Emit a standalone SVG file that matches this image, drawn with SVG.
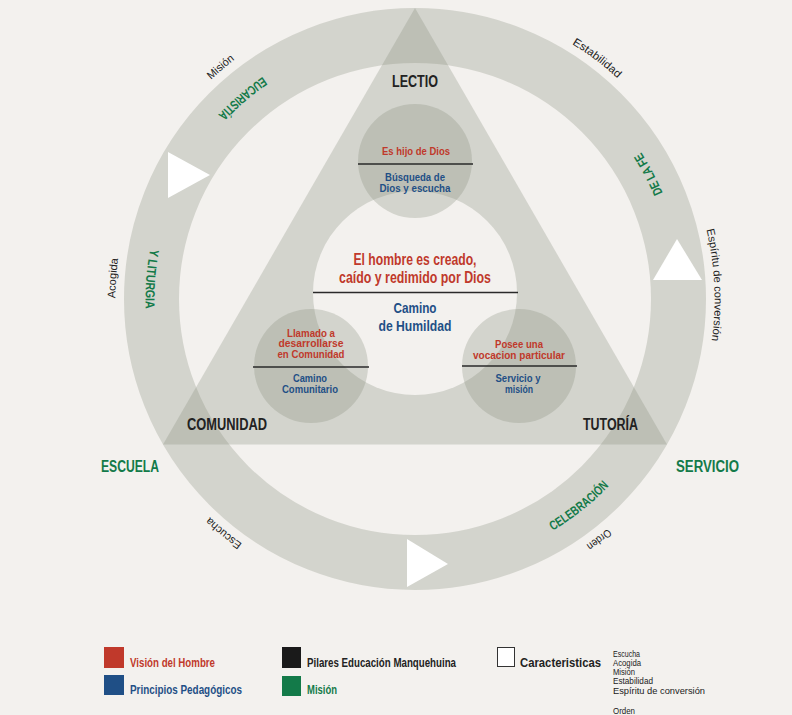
<svg xmlns="http://www.w3.org/2000/svg" xmlns:xlink="http://www.w3.org/1999/xlink" width="792" height="715" viewBox="0 0 792 715">
<style>
.bg{fill:#f3f1ee}
.gray{fill:#888d7c;fill-opacity:0.29}
.ringc{fill:none;stroke:#888d7c;stroke-opacity:0.29;stroke-width:55}
.arrow{fill:#ffffff}
.div{stroke:#2a2a2a;stroke-width:1.5}
text{font-family:"Liberation Sans",Arial,sans-serif}
.b{font-weight:bold}
.red{fill:#c0392b}
.blue{fill:#1f4f86}
.green{fill:#137a49}
.dark{fill:#222222}
.pillar{font-size:16px;font-weight:bold;fill:#222222}
.mission{font-size:16px;font-weight:bold;fill:#137a49}
.small{font-size:11px;font-weight:bold}
.outer{font-size:11px;fill:#222222}
.ringlab{font-size:13px;font-weight:bold;fill:#137a49}
.leg{font-size:13px;font-weight:bold}
.list{font-size:9px;fill:#222222}
</style>
<defs>
<path id="cw" d="M 415,598.5 A 299.5 299.5 0 1 1 415,-0.5 A 299.5 299.5 0 1 1 415,598.5"/>
<path id="ccw" d="M 415,568.5 A 269.5 269.5 0 1 0 415,29.5 A 269.5 269.5 0 1 0 415,568.5"/>
</defs>
<rect class="bg" x="0" y="0" width="792" height="715"/>

<g id="connectors">
<circle class="ringc" cx="415" cy="299" r="263.5"/>
<polygon class="arrow" points="168,152 168,198 210,175"/>
<polygon class="arrow" points="653,280 702,280 677,239"/>
<polygon class="arrow" points="407,539 407,587 448,564"/>
</g>

<g id="triangle">
<polygon class="gray" points="415,8 163,444.5 667,444.5"/>
</g>

<g id="center">
<circle class="bg" cx="415" cy="293" r="102"/>
</g>

<g id="node-lectio-circle">
<circle class="gray" cx="415" cy="161" r="57"/>
<line class="div" x1="358" y1="164" x2="473" y2="164"/>
<text class="small red" x="416" y="155" text-anchor="middle" textLength="68" lengthAdjust="spacingAndGlyphs">Es hijo de Dios</text>
<text class="small blue" x="415" y="180.5" text-anchor="middle" textLength="60" lengthAdjust="spacingAndGlyphs">Búsqueda de</text>
<text class="small blue" x="415" y="191.5" text-anchor="middle" textLength="71" lengthAdjust="spacingAndGlyphs">Dios y escucha</text>
</g>

<g id="node-comunidad-circle">
<circle class="gray" cx="311" cy="366" r="57"/>
<line class="div" x1="253" y1="367" x2="369" y2="367"/>
<text class="small red" x="311" y="336.5" text-anchor="middle" textLength="48" lengthAdjust="spacingAndGlyphs">Llamado a</text>
<text class="small red" x="311" y="347" text-anchor="middle" textLength="65" lengthAdjust="spacingAndGlyphs">desarrollarse</text>
<text class="small red" x="311" y="358" text-anchor="middle" textLength="67" lengthAdjust="spacingAndGlyphs">en Comunidad</text>
<text class="small blue" x="310" y="382" text-anchor="middle" textLength="34" lengthAdjust="spacingAndGlyphs">Camino</text>
<text class="small blue" x="310" y="392.5" text-anchor="middle" textLength="56" lengthAdjust="spacingAndGlyphs">Comunitario</text>
</g>

<g id="node-tutoria-circle">
<circle class="gray" cx="519" cy="366" r="57"/>
<line class="div" x1="462" y1="366" x2="577" y2="366"/>
<text class="small red" x="519" y="348" text-anchor="middle" textLength="48" lengthAdjust="spacingAndGlyphs">Posee una</text>
<text class="small red" x="519" y="359" text-anchor="middle" textLength="92" lengthAdjust="spacingAndGlyphs">vocacion particular</text>
<text class="small blue" x="518" y="382" text-anchor="middle" textLength="45" lengthAdjust="spacingAndGlyphs">Servicio y</text>
<text class="small blue" x="519" y="392.5" text-anchor="middle" textLength="28" lengthAdjust="spacingAndGlyphs">misión</text>
</g>

<g id="node-center-text">
<text class="b red" font-size="16" x="415" y="265" text-anchor="middle" textLength="123" lengthAdjust="spacingAndGlyphs">El hombre es creado,</text>
<text class="b red" font-size="16" x="415" y="283" text-anchor="middle" textLength="152" lengthAdjust="spacingAndGlyphs">caído y redimido por Dios</text>
<line class="div" x1="313" y1="292.5" x2="518" y2="292.5"/>
<text class="b blue" font-size="14" x="415" y="313" text-anchor="middle" textLength="43" lengthAdjust="spacingAndGlyphs">Camino</text>
<text class="b blue" font-size="14" x="415" y="331" text-anchor="middle" textLength="73" lengthAdjust="spacingAndGlyphs">de Humildad</text>
</g>

<g id="node-lectio">
<text class="pillar" x="415" y="87" text-anchor="middle" textLength="46" lengthAdjust="spacingAndGlyphs">LECTIO</text>
</g>
<g id="node-comunidad">
<text class="pillar" x="227" y="430" text-anchor="middle" textLength="80" lengthAdjust="spacingAndGlyphs">COMUNIDAD</text>
</g>
<g id="node-tutoria">
<text class="pillar" x="610.5" y="430" text-anchor="middle" textLength="55" lengthAdjust="spacingAndGlyphs">TUTORÍA</text>
</g>
<g id="node-escuela">
<text class="mission" x="130" y="472" text-anchor="middle" textLength="58" lengthAdjust="spacingAndGlyphs">ESCUELA</text>
</g>
<g id="node-servicio">
<text class="mission" x="707.5" y="472" text-anchor="middle" textLength="63" lengthAdjust="spacingAndGlyphs">SERVICIO</text>
</g>

<g id="ring-labels">
<text class="ringlab" text-anchor="middle" textLength="59" lengthAdjust="spacingAndGlyphs"><textPath xlink:href="#ccw" href="#ccw" startOffset="61.3%">EUCARISTÍA</textPath></text>
<text class="ringlab" text-anchor="middle" textLength="60" lengthAdjust="spacingAndGlyphs"><textPath xlink:href="#ccw" href="#ccw" startOffset="73.8%">Y LITURGIA</textPath></text>
<text class="ringlab" text-anchor="middle" textLength="46" lengthAdjust="spacingAndGlyphs"><textPath xlink:href="#ccw" href="#ccw" startOffset="32.8%">DE LA FE</textPath></text>
<text class="ringlab" text-anchor="middle" textLength="72" lengthAdjust="spacingAndGlyphs"><textPath xlink:href="#ccw" href="#ccw" startOffset="10.67%">CELEBRACIÓN</textPath></text>
</g>

<g id="outer-labels">
<text class="outer" text-anchor="middle" textLength="31" lengthAdjust="spacingAndGlyphs"><textPath xlink:href="#cw" href="#cw" startOffset="38.9%">Misión</textPath></text>
<text class="outer" text-anchor="middle" textLength="57" lengthAdjust="spacingAndGlyphs"><textPath xlink:href="#cw" href="#cw" startOffset="60.3%">Estabilidad</textPath></text>
<text class="outer" text-anchor="middle" textLength="112" lengthAdjust="spacingAndGlyphs"><textPath xlink:href="#cw" href="#cw" startOffset="74.25%">Espíritu de conversión</textPath></text>
<text class="outer" text-anchor="middle" textLength="27" lengthAdjust="spacingAndGlyphs"><textPath xlink:href="#cw" href="#cw" startOffset="89.6%">Orden</textPath></text>
<text class="outer" text-anchor="middle" textLength="42" lengthAdjust="spacingAndGlyphs"><textPath xlink:href="#cw" href="#cw" startOffset="10.9%">Escucha</textPath></text>
<text class="outer" text-anchor="middle" textLength="40" lengthAdjust="spacingAndGlyphs"><textPath xlink:href="#cw" href="#cw" startOffset="26.1%">Acogida</textPath></text>
</g>

<g id="legend">
<rect x="104" y="647" width="20" height="21" fill="#c0392b"/>
<text class="leg red" x="130" y="667" textLength="85" lengthAdjust="spacingAndGlyphs">Visión del Hombre</text>
<rect x="104" y="675" width="20" height="20" fill="#1f4f86"/>
<text class="leg blue" x="130" y="694" textLength="112" lengthAdjust="spacingAndGlyphs">Principios Pedagógicos</text>
<rect x="282" y="647" width="19" height="21" fill="#1a1a1a"/>
<text class="leg dark" x="307" y="667" textLength="149" lengthAdjust="spacingAndGlyphs">Pilares Educación Manquehuina</text>
<rect x="282" y="676" width="19" height="20" fill="#137a49"/>
<text class="leg green" x="307" y="694" textLength="30" lengthAdjust="spacingAndGlyphs">Misión</text>
<rect x="497.5" y="647.5" width="17" height="19" fill="#ffffff" stroke="#333333" stroke-width="1"/>
<text class="leg dark" x="520" y="667" textLength="81" lengthAdjust="spacingAndGlyphs">Caracteristicas</text>
<text class="list" x="613" y="657" textLength="27" lengthAdjust="spacingAndGlyphs">Escucha</text>
<text class="list" x="613" y="666" textLength="28" lengthAdjust="spacingAndGlyphs">Acogida</text>
<text class="list" x="613" y="675" textLength="22" lengthAdjust="spacingAndGlyphs">Misión</text>
<text class="list" x="613" y="684" textLength="40" lengthAdjust="spacingAndGlyphs">Estabilidad</text>
<text class="list" x="613" y="694" textLength="92" lengthAdjust="spacingAndGlyphs">Espíritu de conversión</text>
<text class="list" x="613" y="714" textLength="22" lengthAdjust="spacingAndGlyphs">Orden</text>
</g>
</svg>
